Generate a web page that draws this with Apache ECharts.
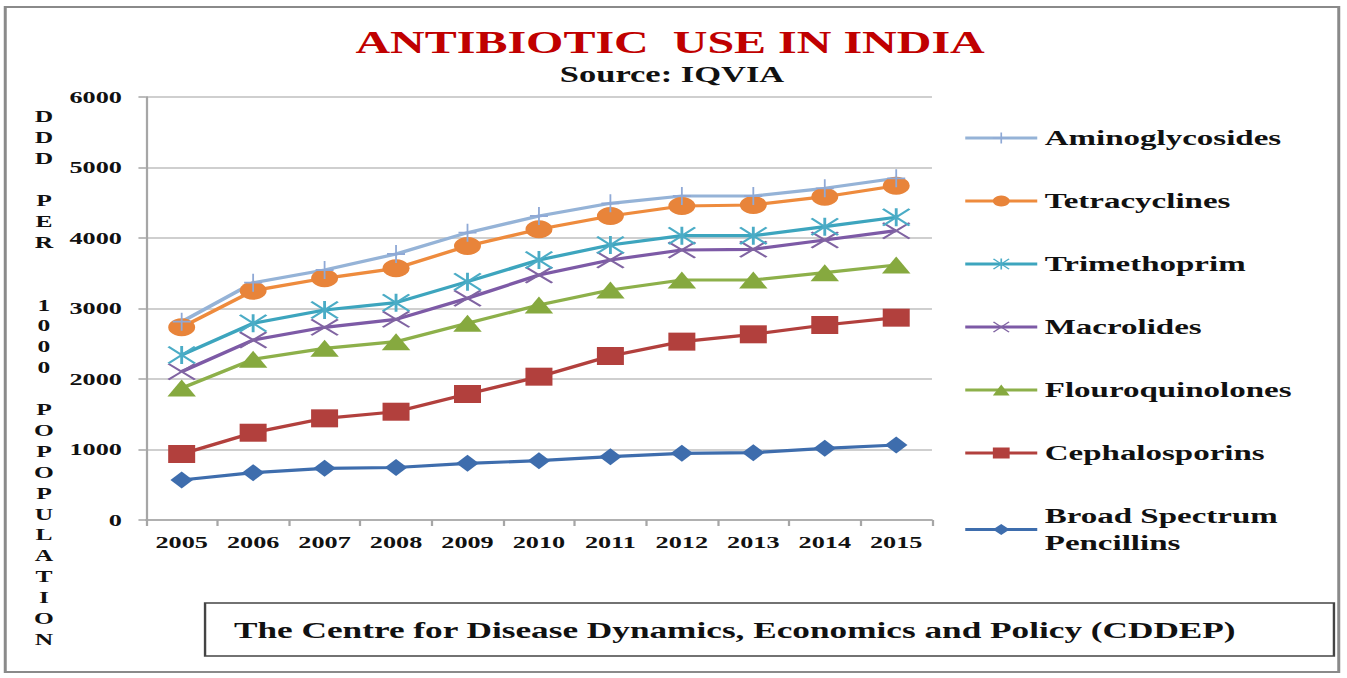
<!DOCTYPE html>
<html>
<head>
<meta charset="utf-8">
<title>Antibiotic use in India</title>
<script src="https://cdn.jsdelivr.net/npm/echarts@6/dist/echarts.min.js"></script>
<style>
  html, body { margin: 0; padding: 0; background: #fff; overflow: hidden; }
  /* the source picture is stretched sideways ~1.5x, so draw at 898px and stretch */
  #chart { width: 898px; height: 678px; transform: scaleX(1.5); transform-origin: 0 0; }
</style>
</head>
<body>
<div id="chart"></div>
<script>
// ---- data (DDD per 1000 population) ----
const years = ['2005', '2006', '2007', '2008', '2009', '2010', '2011', '2012', '2013', '2014', '2015'];
const broadSpectrum   = [567, 671, 733, 745, 804, 841, 898, 946, 955, 1017, 1064];
const cephalosporins  = [936, 1238, 1442, 1536, 1787, 2033, 2326, 2530, 2634, 2766, 2870];
const flouroquinolones = [1872, 2279, 2435, 2530, 2790, 3050, 3262, 3404, 3404, 3508, 3617];
const macrolides      = [2104, 2553, 2733, 2846, 3145, 3475, 3688, 3830, 3840, 3972, 4104];
const trimethoprim    = [2340, 2790, 2979, 3083, 3381, 3688, 3901, 4033, 4033, 4161, 4294];
const tetracyclines   = [2733, 3253, 3428, 3570, 3887, 4123, 4312, 4454, 4468, 4586, 4742];
const aminoglycosides = [2813, 3366, 3546, 3773, 4076, 4312, 4492, 4596, 4596, 4705, 4847];

const legendNames = ['Aminoglycosides', 'Tetracyclines', 'Trimethoprim', 'Macrolides',
  'Flouroquinolones', 'Cephalosporins', 'Broad Spectrum\nPencillins'];

const SERIF = "'Liberation Serif', 'Times New Roman', serif";

// marker shapes that echarts does not ship
const PLUS = 'path://M9,0h2v20h-2zM0,9h20v2h-20z';
const CROSS = 'path://M0,1.4L1.4,0L10,8.6L18.6,0L20,1.4L11.4,10L20,18.6L18.6,20L10,11.4L1.4,20L0,18.6L8.6,10Z';
const STAR = CROSS + 'M9,0h2v20h-2z';

function lineSeries(name, data, color, symbol, size, markColor) {
  return {
    name, type: 'line', data,
    symbol, symbolSize: size,
    lineStyle: { color, width: 3.2 },
    itemStyle: { color: markColor || color },
    emphasis: { disabled: true }
  };
}

const el = document.getElementById('chart');
const chart = echarts.init(el, null, { renderer: 'svg' });

const option = {
  animation: false,
  backgroundColor: '#fff',
  grid: { left: 97.3, right: 276.7, top: 97, bottom: 158 },
  legend: {
    data: legendNames,
    orient: 'vertical',
    left: 642, top: 124.5,
    padding: 0,
    itemWidth: 48, itemHeight: 14, itemGap: 36,
    lineStyle: { width: 3 },
    textStyle: { fontFamily: SERIF, fontWeight: 'bold', fontSize: 22, color: '#111', lineHeight: 27 }
  },
  xAxis: {
    type: 'category', data: years, boundaryGap: true,
    axisLine: { lineStyle: { color: '#A6A6A6', width: 1.5 } },
    axisTick: { show: true, length: 6, lineStyle: { color: '#A6A6A6', width: 1.5 } },
    axisLabel: { fontFamily: SERIF, fontWeight: 'bold', fontSize: 17.5, color: '#111', margin: 13 }
  },
  yAxis: {
    type: 'value', min: 0, max: 6000, interval: 1000,
    axisLine: { show: true, lineStyle: { color: '#A6A6A6', width: 1.5 } },
    axisTick: { show: true, length: 5, lineStyle: { color: '#A6A6A6', width: 1.5 } },
    splitLine: { lineStyle: { color: '#BFBFBF', width: 1.5 } },
    axisLabel: {
      formatter: v => String(v),
      fontFamily: SERIF, fontWeight: 'bold', fontSize: 17.5, color: '#111', margin: 16
    }
  },
  // drawn bottom first so the upper lines sit on top, like the original
  series: [
    lineSeries(legendNames[6], broadSpectrum, '#3E6DAD', 'diamond', [15, 17]),
    lineSeries(legendNames[5], cephalosporins, '#B2403D', 'rect', [18, 18]),
    lineSeries(legendNames[4], flouroquinolones, '#8DB04A', 'triangle', [19, 17], '#86A93F'),
    lineSeries(legendNames[3], macrolides, '#7D5AA6', CROSS, [19, 17], '#8064A2'),
    lineSeries(legendNames[2], trimethoprim, '#3DA5BE', STAR, [19, 18], '#4BACC6'),
    lineSeries(legendNames[1], tetracyclines, '#EE8B3D', 'circle', [18, 18], '#E8843A'),
    lineSeries(legendNames[0], aminoglycosides, '#95B3D7', PLUS, [12, 18], '#8FA9D6')
  ],
  graphic: [
    // outer frame
    { type: 'rect', z: 0, shape: { x: 3.5, y: 7, width: 889, height: 665 },
      style: { fill: 'none', stroke: '#8a8a8a', lineWidth: 2 } },
    { type: 'text', x: 446.7, y: 42.5,
      style: { text: 'ANTIBIOTIC  USE IN INDIA', font: 'bold 32px ' + SERIF, fill: '#C00000',
               align: 'center', verticalAlign: 'middle' } },
    { type: 'text', x: 448, y: 74,
      style: { text: 'Source: IQVIA', font: 'bold 23px ' + SERIF, fill: '#111',
               align: 'center', verticalAlign: 'middle' } },
    // y axis title, one letter per line
    { type: 'text', x: 29.3, y: 106.5,
      style: { text: 'D\nD\nD\n\nP\nE\nR\n\n\n1\n0\n0\n0\n\nP\nO\nP\nO\nP\nU\nL\nA\nT\nI\nO\nN',
               font: 'bold 17px ' + SERIF, fill: '#111', lineHeight: 20.9,
               align: 'center', verticalAlign: 'top' } },
    // credit box
    { type: 'rect', shape: { x: 136.7, y: 603, width: 752.6, height: 53 },
      style: { fill: '#fff', stroke: '#444', lineWidth: 1.6 } },
    { type: 'text', x: 156, y: 629.5,
      style: { text: 'The Centre for Disease Dynamics, Economics and Policy (CDDEP)',
               font: 'bold 23.5px ' + SERIF, fill: '#111', align: 'left', verticalAlign: 'middle' } }
  ]
};

chart.setOption(option);
</script>
</body>
</html>
